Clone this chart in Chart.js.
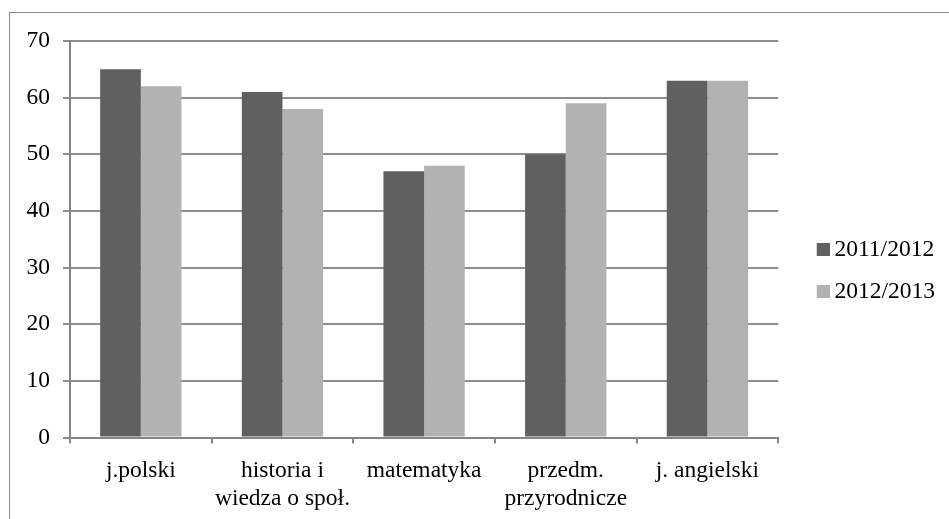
<!DOCTYPE html>
<html>
<head>
<meta charset="utf-8">
<script src="https://cdn.jsdelivr.net/npm/chart.js@4"></script>
<style>
  html, body { margin: 0; padding: 0; background: #fff; overflow: hidden; }
  #frame {
    position: absolute; left: 9px; top: 12px; width: 960px; height: 540px;
    border-left: 1.5px solid #8a8a8a; border-top: 1.5px solid #8a8a8a;
  }
  #chart { position: absolute; left: 10px; top: 13px; }
</style>
</head>
<body>
<div id="frame"></div>
<canvas id="chart" width="939" height="513"></canvas>
<script>
const categories = [
  "j.polski",
  ["historia i", "wiedza o społ."],
  "matematyka",
  ["przedm.", "przyrodnicze"],
  "j. angielski"
];
const seriesNames = ["2011/2012", "2012/2013"];
const values2011 = [65, 61, 47, 50, 63];
const values2012 = [62, 58, 48, 59, 63];
const yTicks = [0, 10, 20, 30, 40, 50, 60, 70];
const colors = ["#606060", "#b2b2b2"];

const font = { family: "'Liberation Serif', 'Times New Roman', serif", size: 23.5 };

// legend square drawn as an image so the text can sit close to it
function swatch(color) {
  const c = document.createElement("canvas");
  c.width = 20; c.height = 13;
  const g = c.getContext("2d");
  g.fillStyle = color;
  g.fillRect(7, 0, 13, 13);
  return c;
}
const swatches = colors.map(swatch);

// nudge the legend box to where the original sits
const legendShift = {
  id: "legendShift",
  afterLayout(chart) {
    const lg = chart.legend;
    lg.left += 20; lg.right += 20;
    lg.top -= 13; lg.bottom -= 13;
  }
};

document.addEventListener("DOMContentLoaded", function () {
  const ctx = document.getElementById("chart");

  new Chart(ctx, {
    type: "bar",
    data: {
      labels: categories,
      datasets: [
        { label: seriesNames[0], data: values2011, backgroundColor: colors[0] },
        { label: seriesNames[1], data: values2012, backgroundColor: colors[1] }
      ]
    },
    plugins: [legendShift],
    options: {
      responsive: false,
      animation: false,
      layout: { padding: { left: 3.5, top: 28, bottom: 0, right: 24 } },
      datasets: { bar: { categoryPercentage: 0.574, barPercentage: 1 } },
      plugins: {
        legend: {
          position: "right",
          labels: {
            font: font,
            color: "#000",
            usePointStyle: true,
            pointStyleWidth: 6,
            boxHeight: 13,
            padding: 18.5,
            generateLabels(chart) {
              const items = Chart.defaults.plugins.legend.labels.generateLabels(chart);
              items.forEach((it, i) => { it.pointStyle = swatches[i]; });
              return items;
            }
          }
        },
        tooltip: { enabled: false }
      },
      scales: {
        x: {
          grid: { drawOnChartArea: false, color: "#868686", lineWidth: 2, tickLength: 6 },
          border: { color: "#868686", width: 2 },
          ticks: { font: font, color: "#000", padding: 13, maxRotation: 0 }
        },
        y: {
          min: 0,
          max: 70,
          afterBuildTicks: function (axis) {
            axis.ticks = yTicks.map(v => ({ value: v }));
          },
          grid: { color: "#8e8e8e", lineWidth: 2, tickLength: 7 },
          border: { color: "#868686", width: 2 },
          ticks: { font: font, color: "#000", padding: 13 }
        }
      }
    }
  });
});
</script>
</body>
</html>
